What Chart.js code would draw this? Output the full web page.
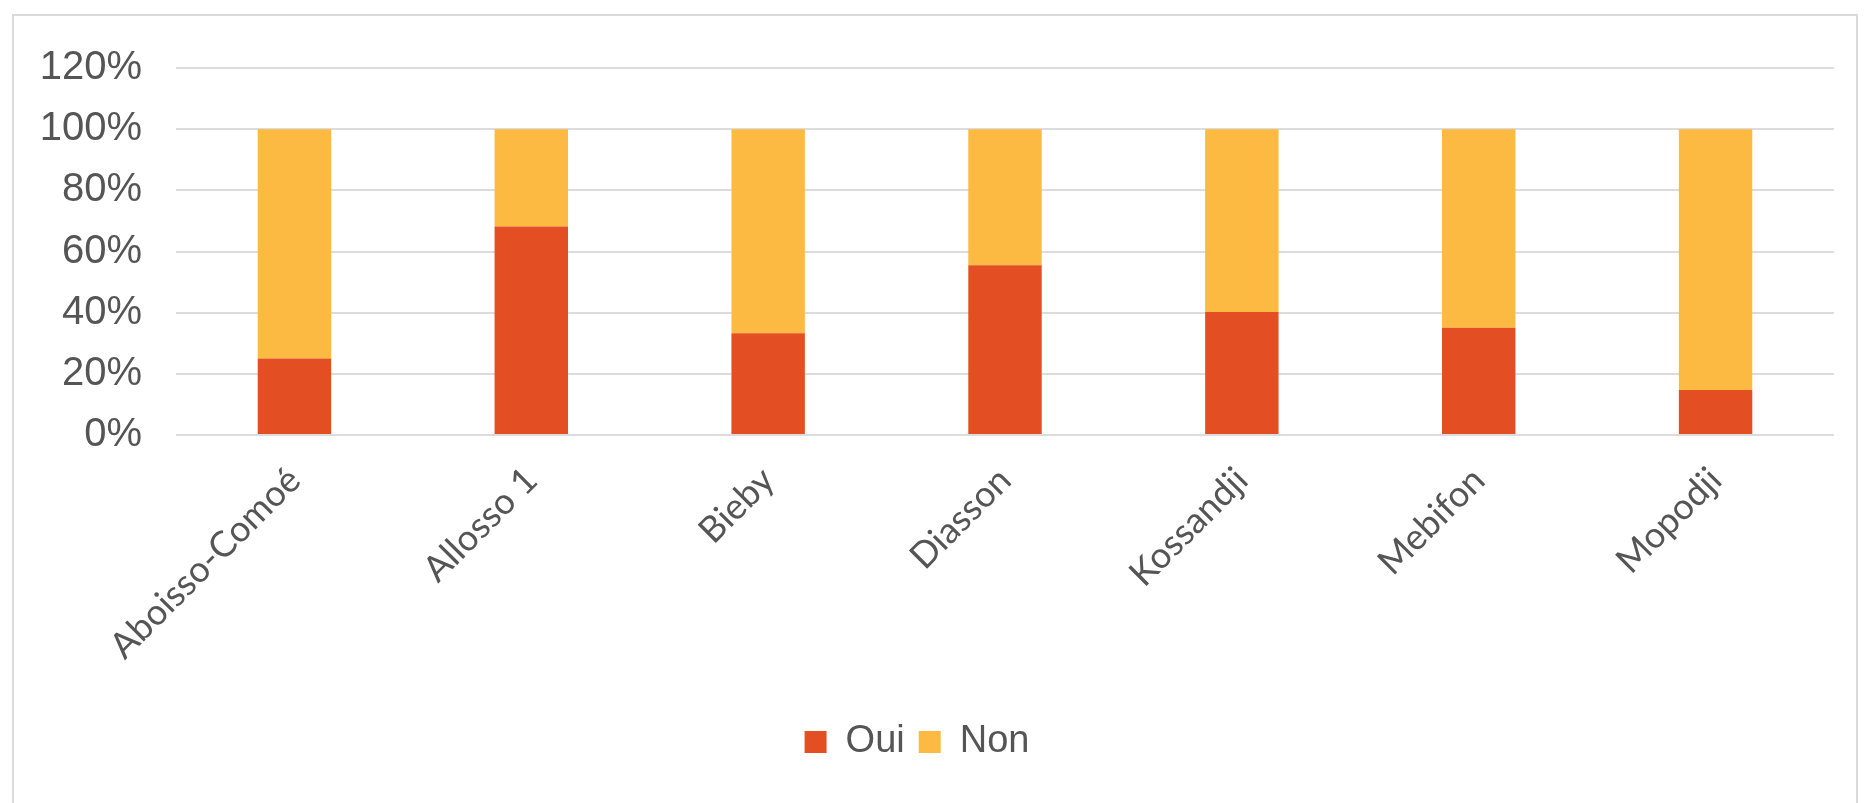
<!DOCTYPE html>
<html>
<head>
<meta charset="utf-8">
<script src="https://cdn.jsdelivr.net/npm/chart.js@4"></script>
<style>
    html, body { margin: 0; padding: 0; background: #fff; overflow: hidden; }
    #frame {
        position: absolute; left: 12px; top: 14px;
        width: 1846px; height: 820px;
        border: 2px solid #dadada;
        box-sizing: border-box;
    }
    #wrap { position: absolute; left: 0; top: 0; width: 1867px; height: 803px; }
</style>
</head>
<body>
<div id="frame"></div>
<div id="wrap"><canvas id="villageChart"></canvas></div>
<script>
// Villages and share of answers per village
const villages = ['Aboisso-Comoé', 'Allosso 1', 'Bieby', 'Diasson', 'Kossandji', 'Mebifon', 'Mopodji'];
const ouiShare = [25, 68.2, 33.3, 55.5, 40.2, 35.1, 14.7];
const nonShare = [75, 31.8, 66.7, 44.5, 59.8, 64.9, 85.3];
const yTicks = [0, 20, 40, 60, 80, 100, 120];

const COLORS = {
    oui: '#e34f22',
    non: '#fdba43',
    grid: '#dcdcdc',
    text: '#555555'
};

const ctx = document.getElementById('villageChart');

new Chart(ctx, {
    type: 'bar',
    data: {
        labels: villages,
        datasets: [
            {
                label: 'Oui',
                data: ouiShare,
                backgroundColor: COLORS.oui,
                categoryPercentage: 0.31,
                barPercentage: 1.0
            },
            {
                label: 'Non',
                data: nonShare,
                backgroundColor: COLORS.non,
                categoryPercentage: 0.31,
                barPercentage: 1.0
            }
        ]
    },
    options: {
        responsive: true,
        maintainAspectRatio: false,
        animation: false,
        layout: {
            padding: { left: 0, right: 33, top: 68, bottom: 32 }
        },
        plugins: {
            tooltip: { enabled: false },
            legend: {
                position: 'bottom',
                labels: {
                    color: COLORS.text,
                    boxWidth: 22,
                    boxHeight: 22,
                    padding: 14,
                    font: { family: "'Liberation Sans', Arial, sans-serif", size: 38 }
                }
            }
        },
        scales: {
            x: {
                stacked: true,
                grid: { display: false },
                border: { display: false },
                ticks: {
                    color: COLORS.text,
                    minRotation: 45,
                    maxRotation: 45,
                    padding: 16,
                    font: { family: "Lato, 'Open Sans', sans-serif", size: 36 }
                },
                afterFit: function(scale) {
                    scale.height = 274;
                }
            },
            y: {
                stacked: true,
                min: 0,
                max: 120,
                afterBuildTicks: function(scale) {
                    scale.ticks = yTicks.map(v => ({ value: v }));
                },
                grid: {
                    color: COLORS.grid,
                    lineWidth: 2,
                    drawTicks: false
                },
                border: { display: false },
                ticks: {
                    color: COLORS.text,
                    padding: 34,
                    font: { family: "'Liberation Sans', Arial, sans-serif", size: 40 },
                    callback: function(value) {
                        return value + '%';
                    }
                },
                afterFit: function(scale) {
                    scale.width = 176;
                }
            }
        }
    }
});
</script>
</body>
</html>
